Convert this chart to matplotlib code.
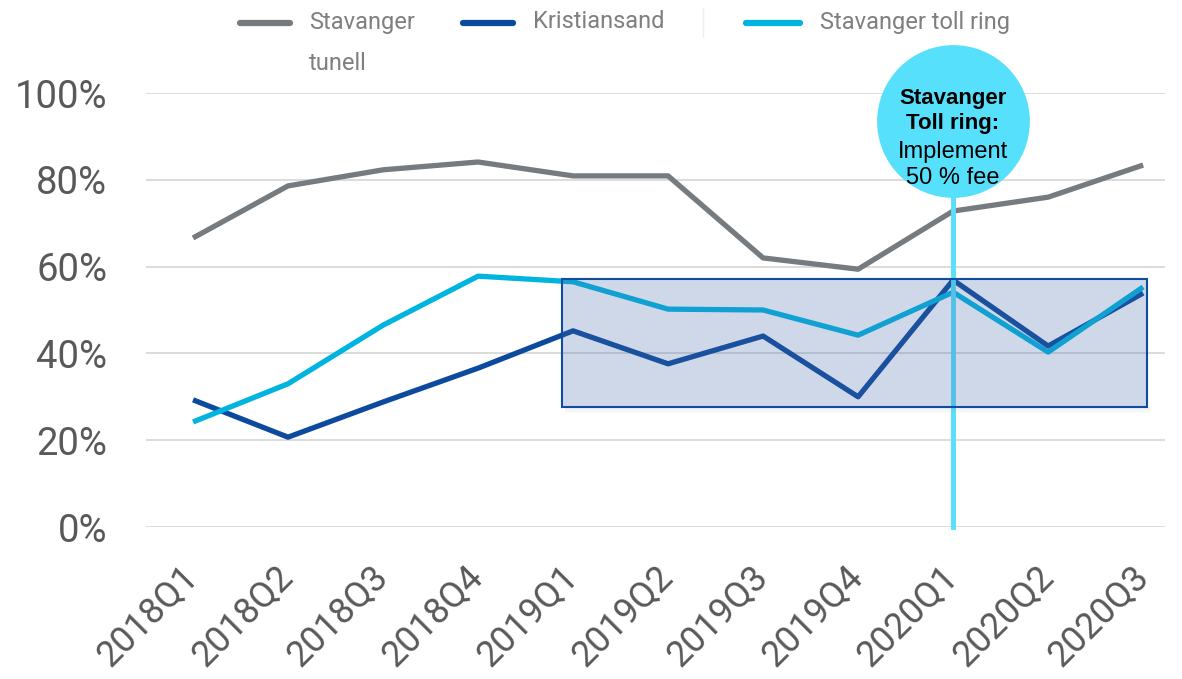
import matplotlib
matplotlib.use("Agg")
import matplotlib.pyplot as plt
from matplotlib.lines import Line2D
from matplotlib.patches import Rectangle

# data (share in %)
quarters = ["2018Q1", "2018Q2", "2018Q3", "2018Q4", "2019Q1", "2019Q2",
            "2019Q3", "2019Q4", "2020Q1", "2020Q2", "2020Q3"]
tunell = [66.6, 78.6, 82.3, 84.1, 80.9, 80.9, 62.0, 59.4, 72.8, 76.0, 83.4]
kristiansand = [29.3, 20.7, 28.8, 36.6, 45.2, 37.6, 44.0, 30.0, 56.9, 41.7, 53.9]
toll_ring = [24.2, 33.0, 46.5, 57.8, 56.5, 50.2, 50.0, 44.2, 54.1, 40.3, 55.3]
yticks = [0, 20, 40, 60, 80, 100]

GRAY = "#767B80"
DARK = "#0B4A9C"
LIGHT = "#00B4E0"
CYAN = "#56E0FC"

W, H = 1182, 679
fig = plt.figure(figsize=(W / 100, H / 100), dpi=100)
ax = fig.add_axes([146 / W, 1 - 527 / H, (1165 - 146) / W, (527 - 93) / H])


def px(x, y):
    return x / W, 1 - y / H


x = list(range(len(quarters)))
ax.plot(x, tunell, color=GRAY, lw=3.8, zorder=2, solid_capstyle="butt")
ax.plot(x, kristiansand, color=DARK, lw=3.8, zorder=2, solid_capstyle="butt")
ax.plot(x, toll_ring, color=LIGHT, lw=3.8, zorder=2, solid_capstyle="butt")

# event marker at 2020Q1
ev = quarters.index("2020Q1")
ax.plot([ev, ev], [0, 93.5], color=CYAN, lw=3.5, zorder=3, clip_on=False)
ax.plot([ev], [93.5], "o", ms=110, color=CYAN, mec="none", zorder=5, clip_on=False)
circle_lines = [("Stavanger", "bold", 98.7), ("Toll ring:", "bold", 93.0),
                ("Implement", "normal", 86.5), ("50 % fee", "normal", 80.3)]
for txt, wt, yy in circle_lines:
    ax.text(ev, yy, txt, ha="center", va="center", fontsize=17 if wt == "normal" else 16,
            fontweight=wt, family="Liberation Sans", color="black", zorder=6, clip_on=False)

# highlighted box with a soft shadow under its bottom edge
bx0, bx1, by0, by1 = 3.88, 10.04, 27.6, 57.1
for i in range(5):
    ax.add_patch(Rectangle((bx0 + 0.03, by0 - 0.25 * (i + 1)), bx1 - bx0, 0.25,
                           facecolor="#777777", alpha=0.12 - 0.02 * i,
                           edgecolor="none", zorder=3.9))
ax.add_patch(Rectangle((bx0, by0), bx1 - bx0, by1 - by0,
                       facecolor="#4367AB", alpha=0.25, edgecolor="none", zorder=4))
ax.add_patch(Rectangle((bx0, by0), bx1 - bx0, by1 - by0,
                       facecolor="none", edgecolor="#0F4DA0", lw=1.5, zorder=4.1))

ax.set_xlim(-0.495, 10.23)
ax.set_ylim(0, 100)
ax.set_yticks(yticks)
ax.set_yticklabels([f"{v}%" for v in yticks], family="Roboto", fontsize=27.5, color="#595959")
ax.set_xticks(x)
ax.set_xticklabels(quarters, rotation=45, ha="right", va="center", rotation_mode="anchor",
                   family="Roboto", fontsize=26, color="#595959")
ax.tick_params(axis="y", length=0, pad=28)
ax.tick_params(axis="x", length=0, pad=32)
ax.grid(axis="y", color="#D9D9D9", lw=1.3, zorder=0)
ax.set_axisbelow(True)
for s in ax.spines.values():
    s.set_visible(False)

# legend drawn by hand
legend = [(GRAY, 240, 290, "Stavanger", 309), (DARK, 463, 513, "Kristiansand", 533),
          (LIGHT, 746, 800, "Stavanger toll ring", 820)]
for col, x0, x1, label, tx in legend:
    fig.add_artist(Line2D([px(x0, 0)[0], px(x1, 0)[0]], [px(0, 23)[1]] * 2,
                          color=col, lw=4.5, transform=fig.transFigure,
                          solid_capstyle="round"))
    fig.text(*px(tx, 22), label, family="Roboto", fontsize=17, color="#7F7F7F",
             va="center", ha="left")
fig.text(*px(309, 63), "tunell", family="Roboto", fontsize=17, color="#7F7F7F",
         va="center", ha="left")
fig.add_artist(Line2D([px(703, 0)[0]] * 2, [px(0, 8)[1], px(0, 36)[1]],
                      color="#EEEEEE", lw=1, transform=fig.transFigure))

fig.savefig("out.png", dpi=100, facecolor="white")
